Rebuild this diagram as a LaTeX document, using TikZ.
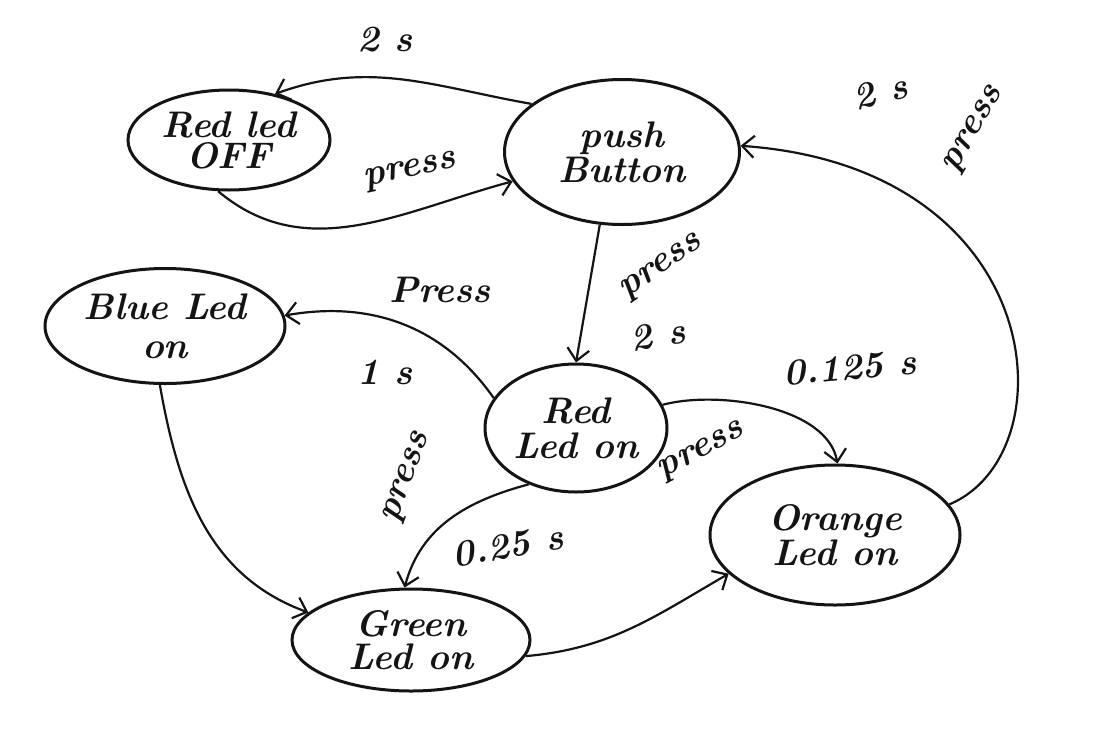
\documentclass[tikz,border=0pt]{standalone}
\usetikzlibrary{
  shapes.geometric,
  arrows.meta
}
\definecolor{ink}{HTML}{141414}
\definecolor{paper}{HTML}{FFFFFF}
\newcommand{\hand}{\fontsize{37}{37}\selectfont\bfseries\itshape}
\tikzset{
  state/.style={
    ellipse,
    draw=ink,
    line width=3pt,
    text=ink,
    font=\hand,
    align=center,
    inner sep=0pt,
  },
  flow/.style={
    -{Straight Barb[length=12pt, width=22pt, line width=2.2pt]},
    line width=2.2pt,
    draw=ink,
  },
  elabel/.style={
    font=\hand,
    text=ink,
    inner sep=1pt,
  },
}

\begin{document}
\begin{tikzpicture}[x=1pt, y=-1pt]

\useasboundingbox[fill=paper] (0,0) rectangle (1114,753);

% === States ===

\node[state, minimum width=202pt, minimum height=100pt]
  (redoff) at (229,140) {Red led\\[-6pt]OFF};

\node[state, minimum width=235pt, minimum height=145pt]
  (push) at (622,152) {push\\[-2pt]Button};

\node[state, minimum width=240pt, minimum height=115pt]
  (blue) at (165,326) {Blue Led\\[2pt]on};

\node[state, minimum width=182pt, minimum height=128pt]
  (redon) at (576,428) {Red\\[-2pt]Led on};

\node[state, minimum width=250pt, minimum height=140pt]
  (orange) at (835,535) {Orange\\[-2pt]Led on};

\node[state, minimum width=238pt, minimum height=102pt]
  (green) at (411,640) {Green\\[-4pt]Led on};

% === Transitions ===

% Push Button <-> Red led OFF
\draw[flow] (push.152) to[out=170, in=20] (redoff.45);
\draw[flow] (redoff.258) to[out=-40, in=195] (push.195);

% Push Button -> Red Led on
\draw[flow] (push.253) -- (redon.north);

% Red Led on -> Blue Led on
\draw[flow] (redon.160) to[out=125, in=10] (blue.5);

% Blue Led on -> Green Led on
\draw[flow] (blue.265) to[out=-80, in=160] (green.165);

% Red Led on -> Green / Orange
\draw[flow] (redon.230) to[out=195, in=75] (green.97);
\draw[flow] (redon.15) to[out=15, in=100, looseness=0.8] (orange.88);

% Green Led on -> Orange Led on
\draw[flow] (green.-8) to[out=5, in=210] (orange.200);

% Orange Led on -> Push Button
\draw[flow] (orange.15) .. controls +(120,-50) and +(310,22) .. (push.3);

% === Labels ===

\node[elabel] (t2sA) at (385,40) {2 s};
\node[elabel, rotate=12] (tpressA) at (410,172) {press};
\node[elabel, rotate=15] (t2sB) at (880,92) {2 s};
\node[elabel, rotate=60] (tpressB) at (975,130) {press};
\node[elabel] (tpressC) at (440,290) {Press};
\node[elabel, rotate=35] (tpressD) at (662,268) {press};
\node[elabel, rotate=10] (t2sC) at (658,335) {2 s};
\node[elabel] (t1s) at (385,372) {1 s};
\node[elabel, rotate=5] (t0125) at (850,368) {0.125 s};
\node[elabel, rotate=10] (t025) at (508,546) {0.25 s};
\node[elabel, rotate=70] (tpressE) at (408,478) {press};
\node[elabel, rotate=28] (tpressF) at (702,452) {press};

\end{tikzpicture}
\end{document}
